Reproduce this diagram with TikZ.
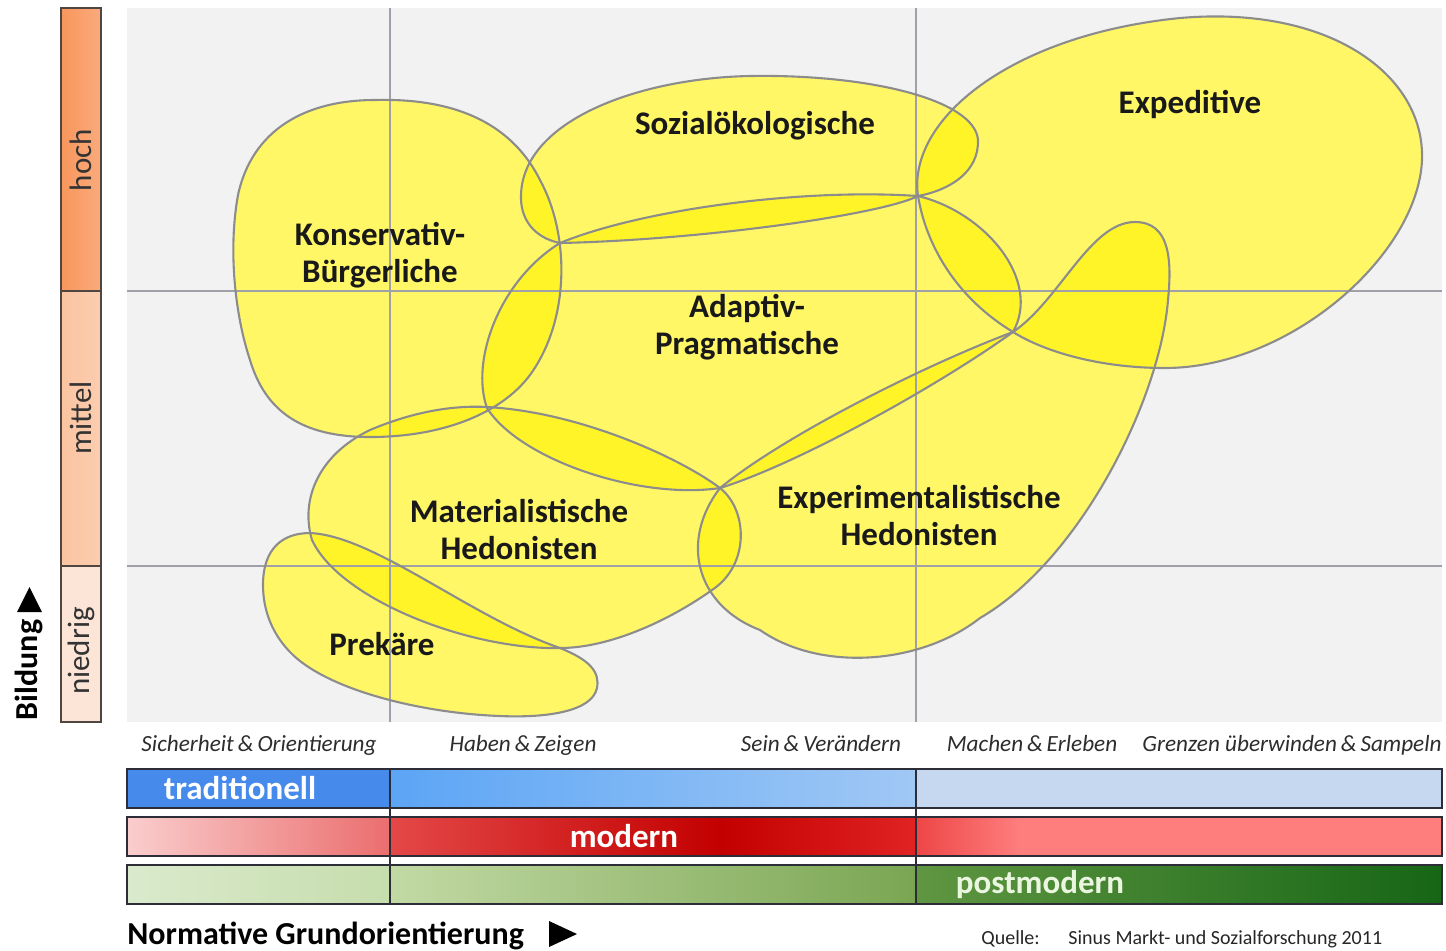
\documentclass[tikz,border=0pt]{standalone}
\usepackage{fontspec}
\setmainfont{Carlito}
\definecolor{bggray}{RGB}{242,242,242}
\definecolor{gridc}{RGB}{160,160,168}
\definecolor{edgec}{RGB}{140,140,140}
\definecolor{hochc}{RGB}{248,150,92}
\definecolor{mittelc}{RGB}{251,196,161}
\definecolor{niedrigc}{RGB}{252,229,215}
\definecolor{framec}{RGB}{80,70,65}
\definecolor{barframec}{RGB}{45,45,55}
\definecolor{textc}{RGB}{25,25,25}
\definecolor{itc}{RGB}{45,45,45}
\definecolor{blueA}{RGB}{70,138,235}
\definecolor{blueB}{RGB}{92,165,245}
\definecolor{blueC}{RGB}{160,200,245}
\definecolor{blueD}{RGB}{197,216,240}
\definecolor{redA}{RGB}{250,205,205}
\definecolor{redB}{RGB}{235,110,110}
\definecolor{redC}{RGB}{228,72,72}
\definecolor{redD}{RGB}{195,0,0}
\definecolor{redE}{RGB}{225,35,35}
\definecolor{redF}{RGB}{238,70,70}
\definecolor{redG}{RGB}{254,126,126}
\definecolor{grnA}{RGB}{218,234,205}
\definecolor{grnB}{RGB}{198,221,172}
\definecolor{grnC}{RGB}{194,217,164}
\definecolor{grnD}{RGB}{122,166,82}
\definecolor{grnE}{RGB}{95,150,65}
\definecolor{grnF}{RGB}{22,102,22}
\definecolor{pmtext}{RGB}{235,246,225}

\newcommand{\blobKB}[1]{\path[#1] (375,100) .. controls (450,98) and (510,120) .. (540,180) .. controls (570,235) and (570,320) .. (530,375) .. controls (500,415) and (440,437) .. (370,437) .. controls (300,437) and (265,410) .. (250,360) .. controls (235,315) and (228,250) .. (238,195) .. controls (252,130) and (305,100) .. (375,100) -- cycle;}
\newcommand{\blobSO}[1]{\path[#1] (560,243) .. controls (535,238) and (520,220) .. (521,195) .. controls (523,120) and (640,78) .. (750,76) .. controls (870,74) and (975,100) .. (978,140) .. controls (979,172) and (950,190) .. (918,196) .. controls (880,215) and (700,240) .. (560,243) -- cycle;}
\newcommand{\blobAP}[1]{\path[#1] (560,243) .. controls (640,210) and (800,188) .. (918,196) .. controls (985,212) and (1042,280) .. (1013,332) .. controls (935,388) and (795,465) .. (720,488) .. controls (640,500) and (520,460) .. (487,408) .. controls (470,360) and (500,280) .. (560,243) -- cycle;}
\newcommand{\blobEX}[1]{\path[#1] (918,196) .. controls (907,120) and (1010,35) .. (1180,18) .. controls (1330,5) and (1425,75) .. (1422,160) .. controls (1418,255) and (1290,368) .. (1165,368) .. controls (1100,368) and (1045,352) .. (1013,332) .. controls (960,300) and (927,250) .. (918,196) -- cycle;}
\newcommand{\blobEH}[1]{\path[#1] (720,488) .. controls (785,435) and (925,365) .. (1013,332) .. controls (1060,300) and (1090,222) .. (1135,222) .. controls (1170,222) and (1172,260) .. (1168,300) .. controls (1160,400) and (1080,560) .. (980,618) .. controls (920,665) and (820,672) .. (760,630) .. controls (695,605) and (680,540) .. (720,488) -- cycle;}
\newcommand{\blobMH}[1]{\path[#1] (487,407) .. controls (580,412) and (680,458) .. (720,488) .. controls (748,510) and (750,565) .. (712,590) .. controls (670,620) and (610,648) .. (560,648) .. controls (470,650) and (340,600) .. (312,540) .. controls (300,500) and (318,455) .. (370,430) .. controls (410,413) and (450,405) .. (487,407) -- cycle;}
\newcommand{\blobPR}[1]{\path[#1] (263,585) .. controls (263,548) and (283,533) .. (310,533) .. controls (375,536) and (470,617) .. (560,648) .. controls (590,660) and (600,672) .. (597,688) .. controls (592,712) and (545,718) .. (500,716) .. controls (420,713) and (330,690) .. (293,655) .. controls (272,635) and (263,610) .. (263,585) -- cycle;}

\begin{document}
\begin{tikzpicture}[x=0.5pt,y=-0.5pt,
  blobfill/.style={fill=yellow,fill opacity=0.6},
  blobedge/.style={draw=edgec,line width=1.05pt},
  gridline/.style={draw=gridc,line width=0.55pt},
  lbl/.style={inner sep=0pt,align=center,text=textc,font=\fontsize{16.5}{18.5}\selectfont\bfseries},
  itlbl/.style={inner sep=0pt,anchor=base,text=itc,font=\fontsize{11.6}{13}\selectfont\itshape},
  lvl/.style={inner sep=0pt,rotate=90,text=black!80,font=\fontsize{15.5}{17}\selectfont},
  barlbl/.style={inner sep=0pt,font=\fontsize{16.5}{18.5}\selectfont\bfseries},
  barframe/.style={draw=barframec,line width=0.75pt},
  levelframe/.style={draw=framec,line width=0.6pt}]
\useasboundingbox (0,0) rectangle (1446,950);
\fill[white] (0,0) rectangle (1446,950);
% plot area
\fill[bggray] (127,8) rectangle (1442,722);
% blobs: white base, then translucent yellow
\blobKB{fill=white}\blobSO{fill=white}\blobAP{fill=white}\blobEX{fill=white}
\blobEH{fill=white}\blobMH{fill=white}\blobPR{fill=white}
\blobKB{blobfill}\blobSO{blobfill}\blobAP{blobfill}\blobEX{blobfill}
\blobEH{blobfill}\blobMH{blobfill}\blobPR{blobfill}
% grid
\draw[gridline] (390,8) -- (390,722);
\draw[gridline] (916,8) -- (916,722);
\draw[gridline] (127,291) -- (1442,291);
\draw[gridline] (127,566) -- (1442,566);
% outlines
\blobKB{blobedge}\blobSO{blobedge}\blobAP{blobedge}\blobEX{blobedge}
\blobEH{blobedge}\blobMH{blobedge}\blobPR{blobedge}
% blob labels
\node[lbl] (tSO) at (755,126) {Sozialökologische};
\node[lbl] (tEX) at (1190,104) {Expeditive};
\node[lbl] (tKB) at (380,255) {Konservativ-\\Bürgerliche};
\node[lbl] (tAP) at (747,327) {Adaptiv-\\Pragmatische};
\node[lbl] (tMH) at (519,530) {Materialistische\\Hedonisten};
\node[lbl] (tEH) at (919,516) {Experimentalistische\\Hedonisten};
\node[lbl] (tPR) at (382,644) {Prekäre};
% education bar
\shade[left color=hochc!92!black!0!hochc,right color=hochc!80!white] (61,8) rectangle (101,291);
\shade[left color=mittelc,right color=mittelc!85!white] (61,291) rectangle (101,566);
\fill[niedrigc] (61,566) rectangle (101,722);
\draw[levelframe] (61,8) rectangle (101,722);
\draw[levelframe] (61,291) -- (101,291);
\draw[levelframe] (61,566) -- (101,566);
\node[lvl] (lhoch) at (81,160) {hoch};
\node[lvl] (lmittel) at (81,418) {mittel};
\node[lvl] (lniedrig) at (81,651) {niedrig};
\node[inner sep=0pt,rotate=90,font=\fontsize{16}{18}\selectfont\bfseries] (tBild) at (29,670) {Bildung};
\fill[black] (17,612) -- (42,612) -- (29.5,587) -- cycle;
% value labels
\node[itlbl] (v1) at (259,751) {Sicherheit\,\&\,Orientierung};
\node[itlbl] (v2) at (523,751) {Haben\,\&\,Zeigen};
\node[itlbl] (v3) at (821,751) {Sein\,\&\,Verändern};
\node[itlbl] (v4) at (1032,751) {Machen\,\&\,Erleben};
\node[itlbl] (v5) at (1292,751) {Grenzen überwinden\,\&\,Sampeln};
% traditionell bar
\fill[blueA] (127,769) rectangle (390,808);
\shade[left color=blueB,right color=blueC] (390,769) rectangle (916,808);
\fill[blueD] (916,769) rectangle (1442,808);
\draw[barframe] (127,769) rectangle (1442,808);
% modern bar
\shade[left color=redA,right color=redB] (127,817) rectangle (390,856);
\shade[left color=redC,right color=redD] (390,817) rectangle (720,856);
\shade[left color=redD,right color=redE] (720,817) rectangle (916,856);
\shade[left color=redF,right color=redG] (916,817) rectangle (1020,856);
\fill[redG] (1020,817) rectangle (1442,856);
\draw[barframe] (127,817) rectangle (1442,856);
% postmodern bar
\shade[left color=grnA,right color=grnB] (127,865) rectangle (390,904);
\shade[left color=grnC,right color=grnD] (390,865) rectangle (916,904);
\shade[left color=grnE,right color=grnF] (916,865) rectangle (1442,904);
\draw[barframe] (127,865) rectangle (1442,904);
% dividers
\draw[barframe] (390,769) -- (390,904);
\draw[barframe] (916,769) -- (916,904);
\node[barlbl,text=white] (btr) at (240,788) {traditionell};
\node[barlbl,text=white] (bmo) at (624,836) {modern};
\node[barlbl,text=pmtext] (bpm) at (1040,884) {postmodern};
% axis title
\node[inner sep=0pt,anchor=base west,font=\fontsize{16}{18}\selectfont\bfseries] (tNorm) at (127,944) {Normative Grundorientierung};
\fill[black] (549,921) -- (549,947) -- (577,934) -- cycle;
% source
\node[inner sep=0pt,anchor=base west,font=\fontsize{10}{12}\selectfont,text=black!85] (tQ) at (981,944) {Quelle:};
\node[inner sep=0pt,anchor=base west,font=\fontsize{10}{12}\selectfont,text=black!85] (tSrc) at (1068,944) {Sinus Markt- und Sozialforschung 2011};
\end{tikzpicture}
\end{document}
